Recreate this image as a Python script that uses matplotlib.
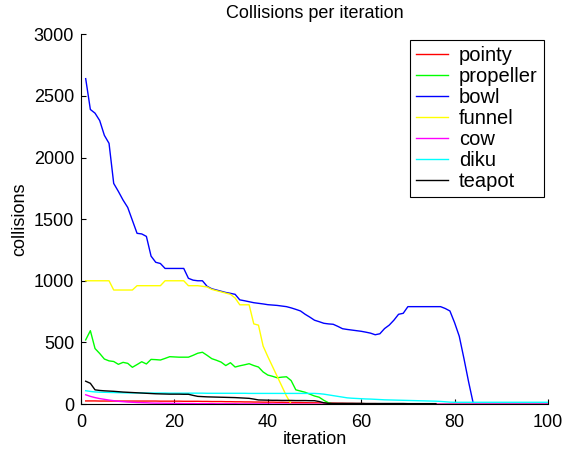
import matplotlib
matplotlib.use("Agg")
import matplotlib.pyplot as plt

plt.rcParams["font.family"] = ["Liberation Sans", "DejaVu Sans"]

# collisions per iteration
pointy = [25, 25, 25, 24, 24, 24, 24, 24, 24, 24,
          24, 24, 24, 24, 24, 24, 23, 23, 23, 23,
          23, 22, 22, 22, 22, 21, 21, 20, 20, 20,
          19, 19, 18, 18, 17, 17, 16, 16, 15, 15,
          15, 14, 14, 13, 13, 12, 12, 11, 10, 10,
          9, 8, 8, 7, 6, 6, 5, 5, 4, 4,
          3, 3, 3, 2, 2, 2, 1, 1, 1, 0,
          0, 0, 0, 0, 0, 0, 0, 0, 0, 0,
          0, 0, 0, 0, 0, 0, 0, 0, 0, 0,
          0, 0, 0, 0, 0, 0, 0, 0, 0, 0]
propeller = [520, 595, 450, 410, 365, 350, 345, 322, 338, 330,
             298, 320, 343, 325, 362, 360, 357, 370, 384, 382,
             380, 380, 380, 395, 412, 420, 395, 368, 355, 340,
             312, 335, 300, 310, 318, 327, 312, 300, 260, 235,
             225, 213, 218, 221, 190, 115, 105, 95, 80, 65,
             55, 30, 10, 0, 0, 0, 0, 0, 0, 0,
             0, 0, 0, 0, 0, 0, 0, 0, 0, 0,
             0, 0, 0, 0, 0, 0, 0, 0, 0, 0,
             0, 0, 0, 0, 0, 0, 0, 0, 0, 0,
             0, 0, 0, 0, 0, 0, 0, 0, 0, 0]
bowl = [2640, 2390, 2360, 2300, 2180, 2115, 1790, 1725, 1655, 1595,
        1490, 1385, 1380, 1360, 1200, 1150, 1140, 1100, 1100, 1100,
        1100, 1100, 1020, 1005, 1000, 1000, 955, 935, 925, 915,
        905, 898, 890, 845, 838, 830, 822, 817, 812, 806,
        803, 800, 795, 790, 780, 768, 755, 728, 705, 680,
        668, 655, 650, 647, 630, 611, 605, 600, 595, 590,
        583, 575, 562, 570, 612, 640, 680, 728, 736, 790,
        790, 790, 790, 790, 790, 790, 790, 775, 755, 660,
        550, 370, 180, 5, 0, 0, 0, 0, 0, 0,
        0, 0, 0, 0, 0, 0, 0, 0, 0, 0]
funnel = [1000, 1000, 1000, 1000, 1000, 1000, 925, 925, 925, 925,
          925, 960, 960, 960, 960, 960, 960, 1000, 1000, 1000,
          1000, 1000, 960, 960, 960, 955, 950, 930, 920, 910,
          900, 890, 860, 805, 805, 805, 650, 640, 470, 385,
          305, 225, 145, 65, 0, 0, 0, 0, 0, 0,
          0, 0, 0, 0, 0, 0, 0, 0, 0, 0,
          0, 0, 0, 0, 0, 0, 0, 0, 0, 0,
          0, 0, 0, 0, 0, 0, 0, 0, 0, 0,
          0, 0, 0, 0, 0, 0, 0, 0, 0, 0,
          0, 0, 0, 0, 0, 0, 0, 0, 0, 0]
cow = [75, 62, 52, 44, 38, 32, 27, 22, 19, 16,
       14, 12, 11, 10, 8, 7, 7, 6, 6, 5,
       5, 4, 4, 4, 3, 3, 3, 3, 2, 2,
       2, 2, 2, 1, 1, 1, 1, 1, 1, 1,
       0, 0, 0, 0, 0, 0, 0, 0, 0, 0,
       0, 0, 0, 0, 0, 0, 0, 0, 0, 0,
       0, 0, 0, 0, 0, 0, 0, 0, 0, 0,
       0, 0, 0, 0, 0, 0, 0, 0, 0, 0,
       0, 0, 0, 0, 0, 0, 0, 0, 0, 0,
       0, 0, 0, 0, 0, 0, 0, 0, 0, 0]
diku = [108, 102, 98, 96, 95, 94, 93, 92, 91, 90,
        90, 90, 90, 89, 89, 89, 89, 89, 88, 88,
        88, 88, 88, 88, 88, 88, 87, 87, 87, 87,
        87, 87, 87, 87, 87, 86, 86, 86, 86, 86,
        86, 86, 86, 86, 86, 86, 86, 86, 86, 86,
        84, 80, 74, 68, 62, 56, 50, 47, 45, 43,
        41, 40, 38, 36, 34, 33, 32, 31, 30, 29,
        28, 27, 26, 25, 24, 23, 21, 18, 15, 14,
        14, 14, 14, 14, 14, 14, 14, 14, 14, 14,
        14, 14, 14, 14, 14, 14, 14, 14, 14, 14]
teapot = [185, 168, 115, 110, 107, 105, 103, 100, 97, 95,
          93, 91, 89, 87, 85, 83, 82, 81, 80, 80,
          80, 79, 79, 70, 62, 60, 58, 57, 56, 55,
          54, 53, 52, 50, 48, 46, 40, 33, 32, 31,
          30, 30, 29, 29, 29, 28, 28, 28, 27, 27,
          20, 10, 5, 5, 5, 5, 5, 5, 5, 5,
          4, 4, 4, 4, 4, 4, 4, 4, 4, 3,
          3, 3, 3, 3, 3, 3]

series = [("pointy", pointy, "#ff0000"),
          ("propeller", propeller, "#00ff00"),
          ("bowl", bowl, "#0000ff"),
          ("funnel", funnel, "#ffff00"),
          ("cow", cow, "#ff00ff"),
          ("diku", diku, "#00ffff"),
          ("teapot", teapot, "#000000")]

fig = plt.figure(figsize=(5.75, 4.5), dpi=100)
ax = fig.add_axes([0.1409, 0.1022, 0.8121, 0.8216])

for name, vals, col in series:
    ax.plot(range(1, len(vals) + 1), vals, color=col, lw=1.0, label=name)

ax.set_xlim(0, 100)
ax.set_ylim(0, 3000)
ax.set_xticks([0, 20, 40, 60, 80, 100])
ax.set_yticks([0, 500, 1000, 1500, 2000, 2500, 3000])
ax.spines["top"].set_visible(False)
ax.spines["right"].set_visible(False)
ax.spines["left"].set_linewidth(0.8)
ax.spines["bottom"].set_linewidth(0.8)
ax.tick_params(direction="in", length=3.5, width=0.8, labelsize=13, pad=5)
ax.tick_params(axis="x", pad=7)

ax.set_xlabel("iteration", fontsize=13, labelpad=0)
ax.set_ylabel("collisions", fontsize=13, labelpad=4)
ax.set_title("Collisions per iteration", fontsize=13, pad=12)

leg = ax.legend(loc="upper right", bbox_to_anchor=(0.991, 0.985), fontsize=14.5,
                frameon=True, fancybox=False, edgecolor="black", framealpha=1,
                borderaxespad=0, handlelength=1.6, handletextpad=0.55,
                labelspacing=0.1, borderpad=0.3)
leg.get_frame().set_linewidth(0.8)

fig.savefig("out.png", dpi=100)
